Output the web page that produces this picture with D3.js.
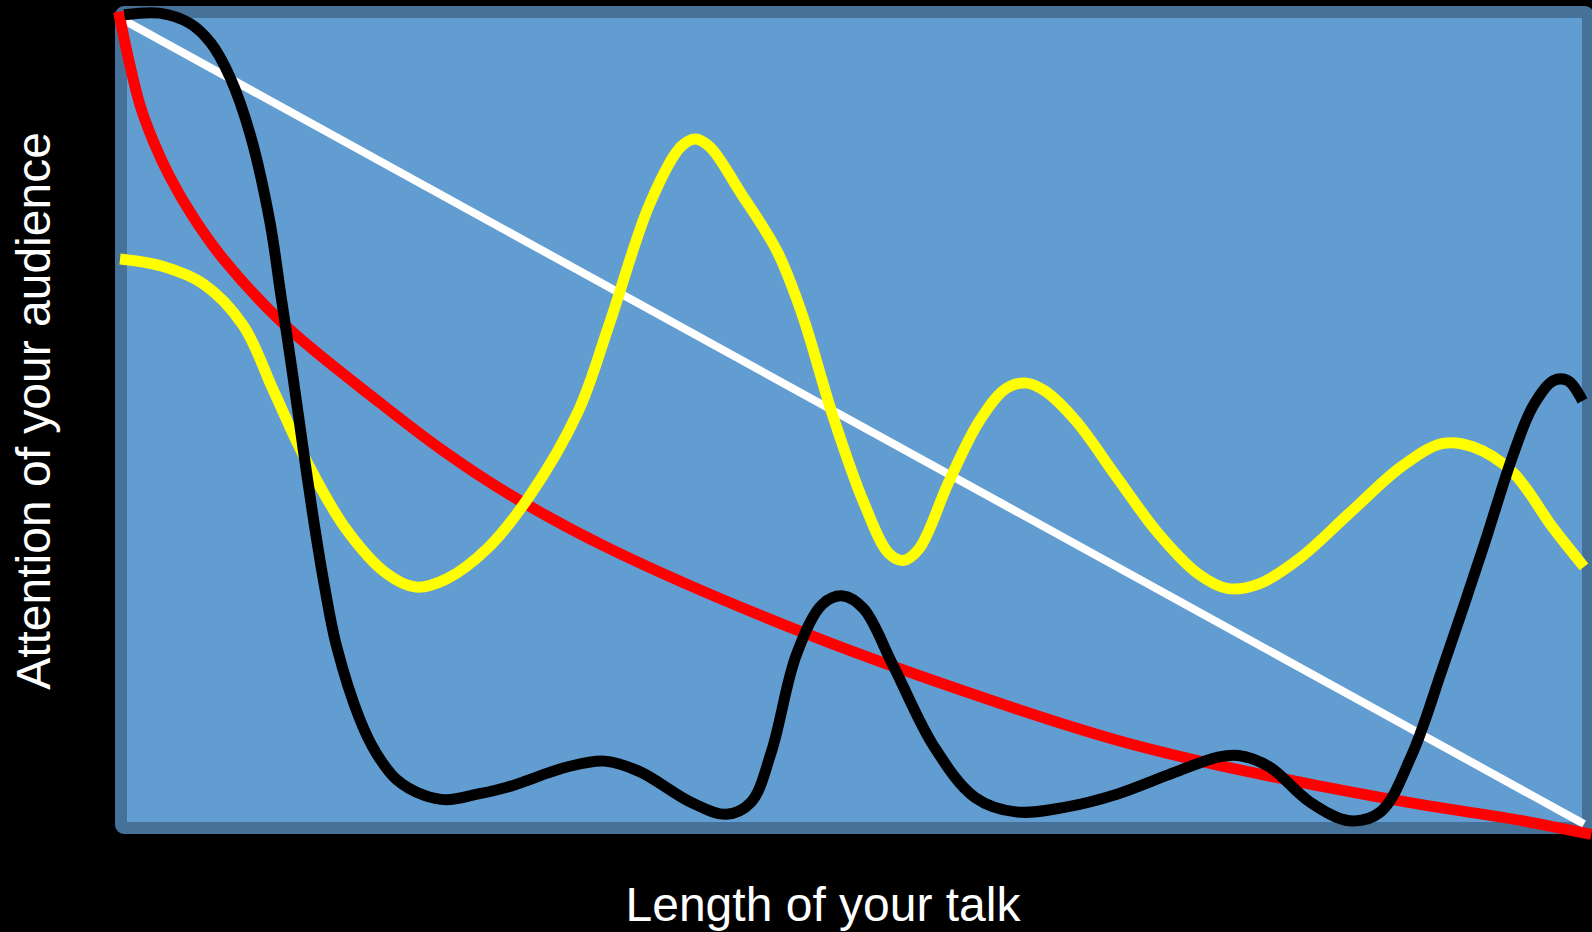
<!DOCTYPE html>
<html>
<head>
<meta charset="utf-8">
<script src="https://cdn.jsdelivr.net/npm/d3@7"></script>
<style>
  html, body { margin: 0; padding: 0; background: #000; }
  svg { display: block; }
</style>
</head>
<body>
<div id="chart"></div>
<script>
// Axis titles
const xTitle = "Length of your talk";
const yTitle = "Attention of your audience";

// Series values, [time, attention] on a 0-100 scale
const whiteLine = [[0, 100], [100, 0]];

const redLine = [
  [-0.1, 100.8], [0.7, 94.0], [1.4, 89.0], [2.3, 84.6], [3.4, 80.3], [5.0, 75.3],
  [7.1, 70.0], [11.2, 62.0], [17.8, 52.2], [22.0, 46.4], [26.5, 41.0],
  [33.4, 34.2], [47.3, 23.3], [61.2, 14.3], [68.1, 10.4], [75.0, 7.3], [82.0, 4.7],
  [88.9, 2.4], [95.8, 0.4], [100.5, -1.3]
];

const yellowLine = [
  [0, 70.1], [2.9, 69.2], [5.7, 67.0], [8.4, 61.9], [10.5, 53.7], [12.6, 45.5],
  [15.4, 36.7], [18.2, 31.1], [20.2, 29.4], [22.3, 30.4], [25.1, 34.2], [27.9, 40.5],
  [31.3, 51.2], [33.4, 61.9], [36.2, 77.0], [38.3, 84.0], [39.3, 85.0], [40.3, 84.0],
  [42.4, 78.3], [44.9, 71.0], [46.6, 63.2], [48.7, 50.6], [50.8, 39.9], [52.5, 33.6],
  [53.5, 32.7], [54.6, 34.2], [56.6, 42.4], [58.7, 50.0], [60.5, 54.0], [61.9, 54.7],
  [63.2, 53.7], [65.3, 50.0], [68.1, 43.0], [70.9, 36.1], [73.6, 31.1], [75.7, 29.2],
  [77.8, 29.8], [80.6, 33.0], [84.0, 38.6], [87.5, 44.3], [90.3, 47.2], [92.4, 46.8],
  [95.1, 43.7], [97.9, 36.7], [100, 31.9]
];

const blackLine = [
  [0.3, 100.4], [2.7, 100.6], [4.8, 99.3], [6.2, 96.9], [7.5, 92.7], [8.9, 85.5],
  [10.24, 74.7], [10.98, 65.7], [11.72, 56.7], [12.42, 47.7], [13.14, 38.7], [13.94, 29.8],
  [14.8, 22.0], [16.4, 12.9], [17.5, 8.8], [18.9, 5.5], [20.7, 3.6],
  [22.3, 3.0], [24.4, 3.7], [26.5, 4.6], [30.6, 7.1], [33.1, 7.8], [35.5, 6.5],
  [39.0, 2.7], [41.4, 1.2], [43.1, 2.7], [44.5, 9.0], [46.2, 21.0], [48.0, 27.3],
  [49.4, 28.3], [50.8, 26.7], [52.8, 19.7], [55.6, 9.6], [58.4, 3.3], [61.2, 1.5],
  [64.6, 2.1], [68.1, 3.7], [71.6, 6.1], [75.0, 8.3], [76.4, 8.5], [78.5, 7.1],
  [81.3, 2.7], [84.0, 0.4], [86.1, 1.5], [88.2, 8.4], [90.3, 19.1], [93.1, 34.2],
  [95.1, 45.5], [96.5, 51.8], [97.9, 55.0], [98.9, 55.0], [99.9, 52.5]
];

const series = [
  { values: whiteLine, color: "#ffffff", width: 8 },
  { values: redLine, color: "#ff0000", width: 11 },
  { values: yellowLine, color: "#ffff00", width: 11 },
  { values: blackLine, color: "#000000", width: 11 }
];

const W = 1592, H = 932;
const plot = { left: 120, right: 1584, top: 18, bottom: 824 };

const svg = d3.select("#chart")
  .append("svg")
  .attr("width", W)
  .attr("height", H);

svg.append("rect")
  .attr("width", W)
  .attr("height", H)
  .attr("fill", "#000");

// Plot frame
svg.append("rect")
  .attr("x", 121)
  .attr("y", 12)
  .attr("width", 1467)
  .attr("height", 816)
  .attr("rx", 3)
  .attr("fill", "#629dd1")
  .attr("stroke", "#46729a")
  .attr("stroke-width", 12);

const x = d3.scaleLinear().domain([0, 100]).range([plot.left, plot.right]);
const y = d3.scaleLinear().domain([0, 100]).range([plot.bottom, plot.top]);

const line = d3.line()
  .x(d => x(d[0]))
  .y(d => y(d[1]))
  .curve(d3.curveCatmullRom.alpha(0.5));

svg.selectAll("path.series")
  .data(series)
  .enter()
  .append("path")
  .attr("class", "series")
  .attr("d", d => line(d.values))
  .attr("fill", "none")
  .attr("stroke", d => d.color)
  .attr("stroke-width", d => d.width)
  .attr("stroke-linecap", "butt")
  .attr("stroke-linejoin", "round");

// Axis titles
svg.append("text")
  .attr("x", 823)
  .attr("y", 921)
  .attr("text-anchor", "middle")
  .attr("fill", "#fff")
  .style("font-family", "'Liberation Sans', Arial, sans-serif")
  .style("font-size", "48px")
  .text(xTitle);

svg.append("text")
  .attr("transform", "translate(50,411) rotate(-90)")
  .attr("text-anchor", "middle")
  .attr("fill", "#fff")
  .style("font-family", "'Liberation Sans', Arial, sans-serif")
  .style("font-size", "48px")
  .text(yTitle);
</script>
</body>
</html>
